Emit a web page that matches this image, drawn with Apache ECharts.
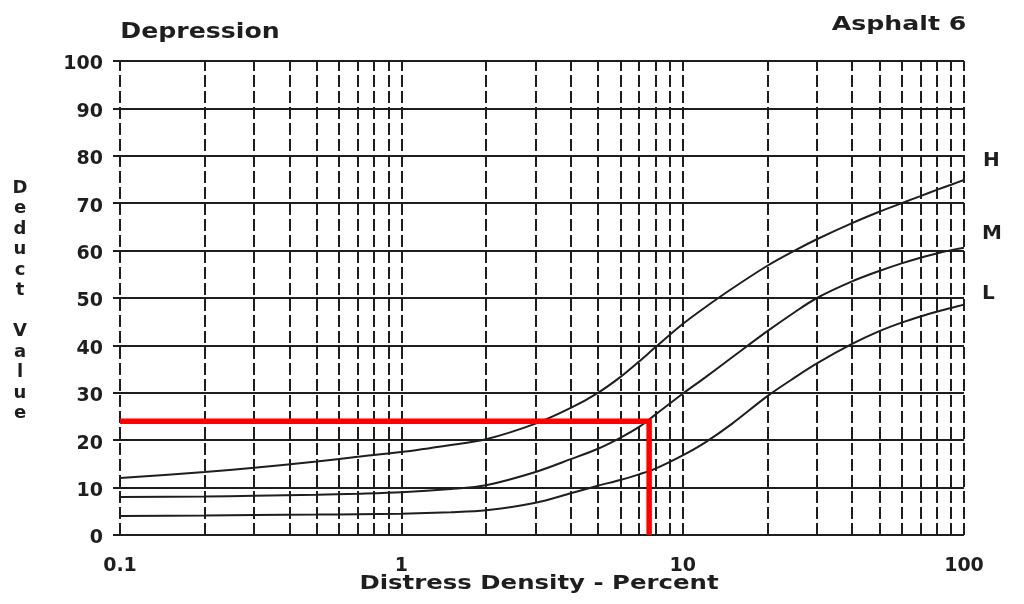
<!DOCTYPE html>
<html><head><meta charset="utf-8">
<script src="https://cdn.jsdelivr.net/npm/echarts@6/dist/echarts.min.js"></script>
<style>html,body{margin:0;padding:0;background:#fff}#chart{width:1024px;height:604px}</style>
</head><body><div id="chart"></div>
<script>
// Distress density (percent) sample points
const density = [0.1, 0.2, 0.3, 0.5, 0.7, 1, 1.5, 2, 3, 4, 5, 6, 7, 8, 10, 12, 15, 20, 25, 30, 40, 50, 60, 70, 80, 90, 100];
// Deduct values for the three severity curves
const curveH = [12, 13.3, 14.2, 15.5, 16.5, 17.5, 19, 20.2, 23.5, 26.8, 30, 33.3, 36.6, 39.6, 44.5, 48, 52, 56.8, 60, 62.4, 65.8, 68.2, 70, 71.5, 72.8, 73.9, 74.9];
const curveM = [8, 8.1, 8.3, 8.5, 8.7, 9, 9.7, 10.5, 13.3, 16, 18.2, 20.5, 22.8, 25.4, 29.8, 33.2, 37.5, 43, 47, 50, 53.5, 55.7, 57.3, 58.5, 59.4, 60.1, 60.6];
const curveL = [4, 4.1, 4.2, 4.3, 4.4, 4.5, 4.8, 5.2, 6.8, 8.8, 10.4, 11.6, 12.8, 14, 16.8, 19.5, 23.5, 29.3, 33.2, 36.2, 40.3, 43, 44.8, 46.1, 47.1, 47.9, 48.6];
const curveNames = ['H', 'M', 'L'];
// Example reading (red guide line)
const exampleX = [0.1, 7.6, 7.6];
const exampleY = [24, 24, 0];
// Tick labels and grid positions
const xTickLabels = ['0.1', '1', '10', '100'];
const yTickValues = [0, 10, 20, 30, 40, 50, 60, 70, 80, 90, 100];
const xGridLines = [0.1, 0.2, 0.3, 0.4, 0.5, 0.6, 0.7, 0.8, 0.9, 1, 2, 3, 4, 5, 6, 7, 8, 9, 10, 20, 30, 40, 50, 60, 70, 80, 90, 100];
const titleText = 'Depression';
const subtitleText = 'Asphalt 6';
const xAxisName = 'Distress Density - Percent';
const yAxisName = 'Deduct Value';

const FONT = '"DejaVu Sans", "Liberation Sans", sans-serif';
const INK = '#1e1e1e';

const chart = echarts.init(document.getElementById('chart'), null, {renderer: 'canvas'});

function pairs(ys) { return density.map((x, i) => [x, ys[i]]); }
function txt(text, x, y, size, align, scaleX) {
  return {
    type: 'text', x: x, y: y, scaleX: scaleX || 1, silent: true,
    style: {
      text: text, x: 0, y: 0, font: 'bold ' + size + 'px ' + FONT, fill: INK,
      textAlign: align, align: align, textVerticalAlign: 'middle', verticalAlign: 'middle'
    }
  };
}
// stacked upright letters for the vertical axis title
const stackedName = yAxisName.split(' ').map(w => w.split('').join('\n')).join('\n\n');

const curveStyle = {color: INK, width: 2};
const lineSeries = (name, ys) => ({
  name: name, type: 'line', data: pairs(ys), smooth: 0.3,
  symbol: 'none', lineStyle: curveStyle, z: 3
});

const option = {
  animation: false,
  backgroundColor: '#fff',
  grid: {left: 120, right: 60, top: 61, bottom: 69, containLabel: false},
  xAxis: {
    type: 'log', logBase: 10, min: 0.1, max: 100,
    axisLine: {show: false}, axisTick: {show: false}, splitLine: {show: false},
    axisLabel: {
      margin: 22, color: INK, fontFamily: FONT, fontWeight: 'bold', fontSize: 19,
      formatter: function (v) { const k = Math.round(Math.log10(v)) + 1; return xTickLabels[k] || ''; }
    }
  },
  yAxis: {
    type: 'value', min: 0, max: 100, interval: 10,
    axisLine: {show: false},
    axisTick: {show: true, length: 7, lineStyle: {color: INK, width: 2}},
    splitLine: {show: true, lineStyle: {color: INK, width: 2}},
    axisLabel: {
      margin: 17, color: INK, fontFamily: FONT, fontWeight: 'bold', fontSize: 19,
      verticalAlign: 'top', lineHeight: 19, padding: [-6, 0, 0, 0],
      formatter: function (v) { return yTickValues.indexOf(v) >= 0 ? String(v) : ''; }
    }
  },
  series: [
    Object.assign(lineSeries(curveNames[0], curveH), {
      markLine: {
        silent: true, symbol: ['none', 'none'], label: {show: false},
        lineStyle: {type: [12, 4], color: INK, width: 2},
        data: xGridLines.map(v => ({xAxis: v}))
      }
    }),
    lineSeries(curveNames[1], curveM),
    lineSeries(curveNames[2], curveL),
    {
      name: 'example', type: 'line', data: exampleX.map((x, i) => [x, exampleY[i]]), symbol: 'none',
      lineStyle: {color: '#ff0000', width: 5.5, join: 'miter', cap: 'butt'}, z: 5
    }
  ],
  graphic: [
    txt(titleText, 200, 33, 21, 'center', 1.2),
    txt(subtitleText, 899, 25, 20, 'center', 1.26),
    txt(xAxisName, 539, 584, 20, 'center', 1.22),
    txt(curveNames[0], 983, 161, 20, 'left', 1),
    txt(curveNames[1], 982, 234, 20, 'left', 1),
    txt(curveNames[2], 982, 294, 20, 'left', 1),
    {
      type: 'text', x: 20, y: 178, silent: true,
      style: {
        text: stackedName, font: 'bold 18px ' + FONT, fill: INK, lineHeight: 20.5,
        textAlign: 'center', align: 'center', textVerticalAlign: 'top', verticalAlign: 'top'
      }
    }
  ]
};
chart.setOption(option);
</script>
</body></html>
